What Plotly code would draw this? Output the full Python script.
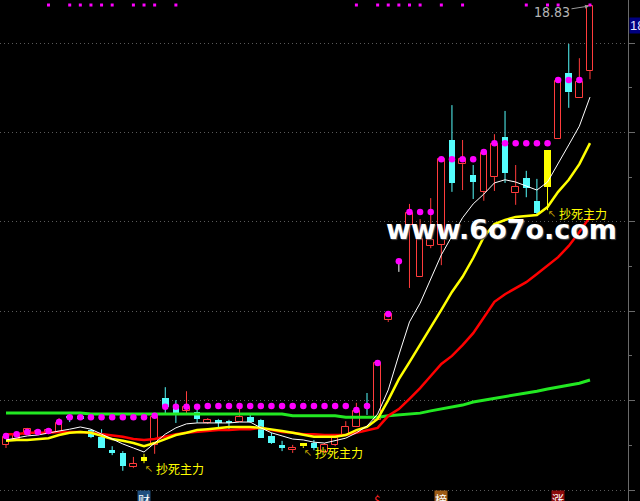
import plotly.graph_objects as go

# ---------------- data ----------------
idx = list(range(56))
opens = [9.01, 9.14, 9.23, 9.25, 9.28, 9.30, 9.66, 9.66, 9.34, 9.19,
         8.89, 8.83, 8.51, 8.74, 9.01, 10.06, 9.88, 9.77, 9.74, 9.50,
         9.57, 9.54, 9.52, 9.63, 9.57, 9.21, 9.01, 8.89, 9.05, 9.05,
         8.85, 9.01, 9.23, 9.41, 9.92, 9.57, 11.80, 13.12, 13.93, 12.77,
         13.46, 13.48, 15.83, 15.29, 15.05, 14.67, 15.00, 15.90, 14.64, 14.98,
         14.47, 14.78, 15.85, 17.33, 16.77, 17.37]
highs = [9.19, 9.25, 9.39, 9.34, 9.36, 9.61, 9.72, 9.68, 9.36, 9.36,
         8.98, 8.87, 8.74, 8.81, 9.66, 10.30, 10.01, 10.21, 9.88, 9.61,
         9.59, 9.57, 9.83, 9.72, 9.59, 9.28, 9.10, 9.01, 9.05, 9.12,
         9.05, 9.23, 9.54, 9.95, 10.17, 10.84, 11.96, 13.12, 14.40, 14.06,
         14.53, 15.40, 16.61, 15.83, 15.27, 15.56, 15.96, 16.48, 15.27, 15.14,
         14.96, 15.61, 17.17, 17.98, 17.66, 18.83]
lows = [8.94, 9.12, 9.23, 9.23, 9.25, 9.30, 9.52, 9.57, 9.16, 8.94,
        8.78, 8.43, 8.49, 8.60, 8.81, 9.72, 9.50, 9.72, 9.50, 9.48,
        9.36, 9.36, 9.52, 9.50, 9.16, 9.03, 8.87, 8.83, 8.94, 8.89,
        8.83, 8.98, 9.23, 9.41, 9.68, 9.57, 11.76, 12.88, 12.52, 12.77,
        13.41, 13.03, 14.67, 14.71, 14.51, 14.47, 14.69, 14.87, 14.38, 14.55,
        14.17, 14.26, 15.85, 16.55, 16.77, 17.19]
closes = [9.19, 9.25, 9.36, 9.32, 9.34, 9.50, 9.61, 9.59, 9.19, 8.94,
          8.83, 8.54, 8.58, 8.65, 9.63, 9.86, 9.72, 9.86, 9.59, 9.57,
          9.50, 9.52, 9.63, 9.52, 9.16, 9.05, 8.94, 8.94, 8.98, 8.94,
          9.01, 9.16, 9.41, 9.77, 9.88, 10.84, 11.94, 13.12, 14.20, 13.62,
          13.59, 15.40, 14.87, 15.40, 14.89, 15.54, 15.74, 15.09, 14.78, 14.76,
          14.20, 15.61, 17.15, 16.90, 17.13, 18.83]
signal_idx = [13, 28, 51]          # yellow "抄死主力" candles

stop_dots = [9.21, 9.25, 9.30, 9.30, 9.32, 9.52,
             9.63, 9.63, 9.63, 9.63, 9.63, 9.63, 9.63, 9.63,
             9.66, 9.86, 9.86, 9.86, 9.86,
             9.88, 9.88, 9.88, 9.88, 9.88, 9.88, 9.88, 9.88, 9.88, 9.88, 9.88, 9.88, 9.88, 9.88,
             9.79, 9.88, 10.84, 11.94, 13.12,
             14.22, 14.22, 14.22, 15.40, 15.40, 15.40, 15.40, 15.56,
             15.76, 15.76, 15.76, 15.76, 15.76, 15.76,
             17.17, 17.17, 17.17, None]
top_mark_idx = [4, 6, 7, 8, 9, 10, 12, 13, 14, 16, 33, 35, 36, 37, 38, 39, 41, 43, 49, 51, 52, 55]
top_mark_val = 18.85

ma_white = [9.12, 9.16, 9.21, 9.23, 9.28, 9.32, 9.36, 9.41, 9.36, 9.25,
            9.14, 9.03, 8.94, 8.85, 9.05, 9.25, 9.39, 9.48, 9.50, 9.50,
            9.50, 9.50, 9.52, 9.52, 9.39, 9.28, 9.21, 9.14, 9.12, 9.07,
            9.05, 9.10, 9.16, 9.28, 9.43, 9.70, 10.24, 11.02, 11.76, 12.18,
            12.70, 13.26, 13.68, 14.09, 14.40, 14.62, 14.87, 14.94, 14.89, 14.80,
            14.71, 14.89, 15.32, 15.72, 16.14, 16.79]
ma_yellow = [9.10, 9.12, 9.12, 9.14, 9.16, 9.23, 9.28, 9.30, 9.28, 9.21,
             9.14, 9.10, 9.05, 8.98, 9.05, 9.14, 9.23, 9.28, 9.34, 9.36,
             9.39, 9.41, 9.41, 9.41, 9.39, 9.36, 9.32, 9.28, 9.23, 9.19,
             9.19, 9.19, 9.23, 9.34, 9.41, 9.59, 10.01, 10.48, 10.86, 11.24,
             11.62, 12.03, 12.43, 12.77, 13.19, 13.66, 13.95, 14.04, 14.11, 14.13,
             14.15, 14.33, 14.67, 14.94, 15.29, 15.76]
ma_red = [9.25, 9.25, 9.28, 9.28, 9.28, 9.30, 9.30, 9.30, 9.28, 9.25,
          9.23, 9.19, 9.14, 9.12, 9.14, 9.19, 9.25, 9.28, 9.30, 9.32,
          9.34, 9.34, 9.36, 9.36, 9.39, 9.34, 9.30, 9.28, 9.25, 9.25,
          9.23, 9.23, 9.23, 9.28, 9.34, 9.39, 9.66, 9.81, 10.04, 10.28,
          10.55, 10.82, 11.00, 11.24, 11.51, 11.85, 12.21, 12.38, 12.52, 12.65,
          12.83, 13.01, 13.21, 13.46, 13.77, 14.11]
ma_green = [9.72, 9.72, 9.72, 9.72, 9.72, 9.72, 9.72, 9.72, 9.70, 9.70,
            9.70, 9.70, 9.70, 9.70, 9.70, 9.70, 9.70, 9.70, 9.70, 9.70,
            9.70, 9.70, 9.70, 9.70, 9.70, 9.70, 9.70, 9.66, 9.66, 9.66,
            9.66, 9.66, 9.63, 9.63, 9.63, 9.63, 9.66, 9.68, 9.70, 9.72,
            9.77, 9.81, 9.86, 9.90, 9.97, 10.01, 10.04, 10.08, 10.13, 10.17,
            10.21, 10.26, 10.30, 10.35, 10.39, 10.46]

# event tags under candles
tag_idx = [13, 35, 41, 52]
tag_text = ["财", "$", "榜", "涨"]
label_text = "抄死主力"

# ---------------- styles ----------------
W, H = 640, 501
PW = 628  # plot width in px
RED = "#ff3c3c"
CYAN = "#54fcfc"
YEL = "#ffff00"

def pxx(px):
    return px / PW

def pxy(py):
    return 1 - py / H

kinds = []
for i, (o, c) in enumerate(zip(opens, closes)):
    if i in signal_idx:
        kinds.append("Y")
    elif c > o:
        kinds.append("R")
    elif c < o:
        kinds.append("C")
    else:
        kinds.append("W")

styles = {
    "R": dict(fill="#000000", line=RED, lw=1, wick=RED),
    "C": dict(fill=CYAN, line=CYAN, lw=0, wick=CYAN),
    "Y": dict(fill=YEL, line=YEL, lw=0, wick=YEL),
    "W": dict(fill="#ffffff", line="#ffffff", lw=0, wick="#ffffff"),
}

fig = go.Figure()

for k, st in styles.items():
    ids = [i for i in idx if kinds[i] == k]
    if not ids:
        continue
    wx, wy = [], []
    for i in ids:
        top = max(opens[i], closes[i])
        bot = min(opens[i], closes[i])
        if highs[i] > top:
            wx += [i, i, None]
            wy += [highs[i], top, None]
        if lows[i] < bot:
            wx += [i, i, None]
            wy += [bot, lows[i], None]
    fig.add_trace(go.Scatter(x=wx, y=wy, mode="lines",
                             line=dict(color=st["wick"], width=1),
                             hoverinfo="skip"))
    fig.add_trace(go.Bar(
        x=ids,
        base=[min(opens[i], closes[i]) for i in ids],
        y=[max(abs(closes[i] - opens[i]), 0.025) for i in ids],
        width=0.62,
        marker=dict(color=st["fill"], line=dict(color=st["line"], width=st["lw"])),
        hoverinfo="skip"))

# moving averages
fig.add_trace(go.Scatter(x=idx, y=ma_green, mode="lines",
                         line=dict(color="#22e822", width=3), hoverinfo="skip"))
fig.add_trace(go.Scatter(x=idx, y=ma_red, mode="lines",
                         line=dict(color="#ff0000", width=2.5), hoverinfo="skip"))
fig.add_trace(go.Scatter(x=idx, y=ma_yellow, mode="lines",
                         line=dict(color="#ffff00", width=2.5), hoverinfo="skip"))
fig.add_trace(go.Scatter(x=idx, y=ma_white, mode="lines",
                         line=dict(color="#ffffff", width=1), hoverinfo="skip"))

# stop dots
fig.add_trace(go.Scatter(x=idx, y=stop_dots, mode="markers",
                         marker=dict(color="#ff00ff", size=6.5, line=dict(width=0)),
                         hoverinfo="skip"))
fig.add_trace(go.Scatter(x=top_mark_idx, y=[top_mark_val] * len(top_mark_idx), mode="markers",
                         marker=dict(color="#ff00ff", size=3, symbol="square", line=dict(width=0)),
                         hoverinfo="skip", cliponaxis=False))

annotations = []
# 18.83 max label
annotations.append(dict(x=55, y=highs[55], xref="x", yref="y", text="18.83",
                        showarrow=True, ax=-38, ay=6, arrowcolor="#9a9a9a",
                        arrowwidth=1, arrowhead=2, arrowsize=0.8, standoff=1,
                        font=dict(family="Liberation Sans Narrow, DejaVu Sans Condensed, Liberation Sans",
                                  size=14, color="#b4b4b4")))
# right axis price tag
annotations.append(dict(x=pxx(629), y=pxy(25.5), xref="paper", yref="paper",
                        xanchor="left", yanchor="middle", text="18.40", showarrow=False,
                        bgcolor="#000080", borderpad=0,
                        font=dict(family="Liberation Sans", size=13, color="#e6e6ff")))
# watermark
annotations.append(dict(x=pxx(501.5), y=pxy(230), xref="paper", yref="paper",
                        xanchor="center", yanchor="middle", text="www.6o7o.com",
                        showarrow=False,
                        font=dict(family="DejaVu Sans", size=27, color="#ffffff",
                                  weight="bold", shadow="1px 1px 1px #505050")))
# signal labels
for ax_px, tx_px, cy_px in [(149, 154, 468), (307.5, 313, 452), (552, 557, 213)]:
    annotations.append(dict(x=pxx(ax_px), y=pxy(cy_px), xref="paper", yref="paper",
                            xanchor="center", yanchor="middle", text="↖", showarrow=False,
                            font=dict(family="DejaVu Sans", size=10, color="#c8a800")))
    annotations.append(dict(x=pxx(tx_px), y=pxy(cy_px), xref="paper", yref="paper",
                            xanchor="left", yanchor="middle", text=label_text, showarrow=False,
                            font=dict(family="Noto Sans CJK SC", size=12, color=YEL)))
# bottom event tags
tag_style = {"财": ("#1f4f7f", "#ffffff"), "$": ("rgba(0,0,0,0)", "#ff2020"),
             "榜": ("#9c5a14", "#ffffff"), "涨": ("#8c0a0a", "#ffffff")}
for ti, tt in zip(tag_idx, tag_text):
    bg, fc = tag_style[tt]
    annotations.append(dict(x=ti, y=pxy(490), xref="x", yref="paper",
                            xanchor="center", yanchor="top", text=tt, showarrow=False,
                            bgcolor=bg, borderpad=0,
                            font=dict(family="Noto Sans CJK SC", size=12, color=fc)))

fig.update_layout(
    width=W, height=H,
    margin=dict(l=0, r=W - PW, t=0, b=0),
    paper_bgcolor="#000000", plot_bgcolor="#000000",
    showlegend=False, barmode="overlay", bargap=0,
    xaxis=dict(range=[-0.565, 58.58], visible=False, fixedrange=True),
    yaxis=dict(range=[7.754, 18.962], side="right", showline=True,
               linecolor="#6a6a6a", linewidth=1, ticks="outside", ticklen=6,
               tickcolor="#6a6a6a", tick0=0, dtick=2, showticklabels=False,
               showgrid=True, gridcolor="#5a5a5a", griddash="1px,3px", gridwidth=1,
               zeroline=False, fixedrange=True,
               minor=dict(dtick=1, tick0=0, ticklen=3, ticks="outside",
                          tickcolor="#6a6a6a", showgrid=False)),
    annotations=annotations,
)

fig.write_html("out.html", config={"displayModeBar": False},
               post_script="document.body.style.margin='0';document.body.style.overflow='hidden';document.body.style.background='#000';")
